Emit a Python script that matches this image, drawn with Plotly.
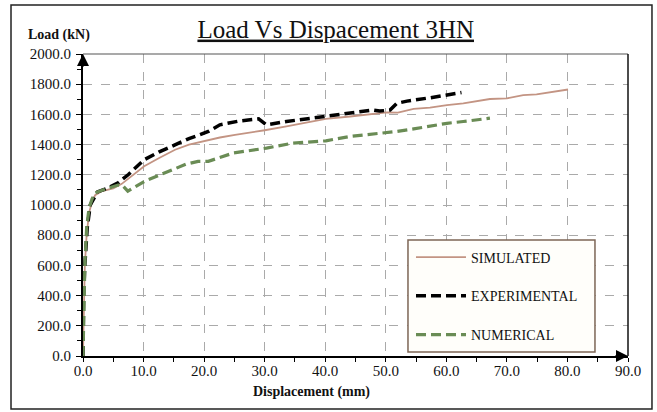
import plotly.graph_objects as go

# ---- data ----
sim_x = [0, 0.1, 0.3, 0.6, 1.0, 1.5, 2.0, 3.0, 5.0, 6.4, 8.0, 10.1, 12.5, 15.2, 17.5, 20.1,
         22.6, 25.1, 27.5, 30.0, 33.6, 37.5, 40.1, 44.1, 47.9, 50.2, 52.0, 54.6, 57.3, 60.1,
         62.8, 65.0, 67.2, 70.0, 72.7, 74.9, 77.7, 80.1]
sim_y = [0, 300, 600, 800, 950, 1020, 1065, 1090, 1110, 1140, 1190, 1257, 1310, 1366, 1400, 1425,
         1447, 1464, 1478, 1495, 1520, 1548, 1570, 1586, 1601, 1614, 1612, 1636, 1645, 1662,
         1673, 1690, 1702, 1706, 1728, 1732, 1750, 1765]

exp_x = [0, 0.1, 0.3, 0.7, 1.2, 2.4, 4.0, 5.8, 7.5, 10.1, 12.5, 15.2, 17.5, 19.3, 20.7, 22.6,
         25.9, 29.0, 30.3, 33.6, 37.5, 40.1, 44.1, 47.9, 49.0, 50.7, 51.8, 53.5, 57.3, 60.1, 62.5]
exp_y = [0, 400, 600, 850, 1000, 1087, 1110, 1147, 1202, 1300, 1350, 1400, 1440, 1465, 1487, 1531,
         1557, 1570, 1531, 1553, 1575, 1586, 1607, 1629, 1622, 1629, 1673, 1688, 1710, 1728, 1745]

num_x = [0, 0.1, 0.3, 0.6, 1.0, 1.5, 2.0, 4.0, 5.8, 6.5, 7.4, 10.2, 14.1, 17.0, 19.0, 20.7,
         24.8, 30.3, 34.7, 40.1, 44.1, 47.9, 51.8, 54.6, 60.1, 62.8, 67.2]
num_y = [0, 300, 600, 850, 980, 1040, 1081, 1110, 1132, 1130, 1092, 1158, 1224, 1270, 1289, 1289,
         1344, 1377, 1410, 1425, 1454, 1469, 1487, 1504, 1541, 1553, 1575]

x_ticks = [0, 10, 20, 30, 40, 50, 60, 70, 80, 90]
x_tick_labels = ["0.0", "10.0", "20.0", "30.0", "40.0", "50.0", "60.0", "70.0", "80.0", "90.0"]
y_ticks = [0, 200, 400, 600, 800, 1000, 1200, 1400, 1600, 1800, 2000]
y_tick_labels = ["0.0", "200.0", "400.0", "600.0", "800.0", "1000.0", "1200.0", "1400.0",
                 "1600.0", "1800.0", "2000.0"]

SERIF = "Liberation Serif, Times New Roman, serif"

fig = go.Figure()
fig.add_trace(go.Scatter(x=sim_x, y=sim_y, mode="lines", name="SIMULATED",
                         legendgroup="a", legendrank=1,
                         line=dict(color="#c39483", width=1.8)))
fig.add_trace(go.Scatter(x=exp_x, y=exp_y, mode="lines", name="EXPERIMENTAL",
                         legendgroup="b", legendrank=2,
                         line=dict(color="#000000", width=3.5, dash="10px,5px")))
fig.add_trace(go.Scatter(x=num_x, y=num_y, mode="lines", name="NUMERICAL",
                         legendgroup="c", legendrank=3,
                         line=dict(color="#6a8c55", width=3.2, dash="10px,5px")))

fig.update_layout(
    width=657, height=412,
    margin=dict(l=83, r=29, t=54, b=56),
    paper_bgcolor="white", plot_bgcolor="white",
    font=dict(family=SERIF, size=15, color="#111111"),
    title=dict(text="<u>Load Vs Dispacement 3HN</u>", x=0.511, xanchor="center",
               y=0.93, yanchor="middle", xref="container", yref="container",
               font=dict(family=SERIF, size=25, color="#111111")),
    showlegend=True,
    legend=dict(x=0.6018, y=0.379, xanchor="left", yanchor="top",
                bgcolor="rgba(0,0,0,0)", borderwidth=0,
                font=dict(family=SERIF, size=14, color="#111111"),
                tracegroupgap=17.5, itemwidth=50),
    xaxis=dict(range=[0, 90], tickvals=x_ticks, ticktext=x_tick_labels,
               showgrid=True, gridcolor="#aaaaaa", griddash="dash", gridwidth=1,
               showline=True, linecolor="black", linewidth=2,
               ticks="outside", ticklen=4, tickcolor="black", tickwidth=1,
               ticklabelstandoff=-4,
               minor=dict(dtick=5, tick0=0, ticks="outside", ticklen=4, tickcolor="black",
                          showgrid=False),
               zeroline=False, fixedrange=True, automargin=False),
    yaxis=dict(range=[0, 2000], tickvals=y_ticks, ticktext=y_tick_labels,
               showgrid=True, gridcolor="#aaaaaa", griddash="dash", gridwidth=1,
               showline=True, linecolor="black", linewidth=2,
               ticks="outside", ticklen=5, tickcolor="black", tickwidth=1,
               ticklabelstandoff=2,
               minor=dict(dtick=100, tick0=0, ticks="outside", ticklen=4, tickcolor="black",
                          showgrid=False),
               zeroline=False, fixedrange=True, automargin=False),
    shapes=[
        # plot-area frame (top & right)
        dict(type="line", xref="paper", yref="paper", x0=0, x1=1, y0=1, y1=1,
             line=dict(color="#555555", width=1.2)),
        dict(type="line", xref="paper", yref="paper", x0=1, x1=1, y0=0, y1=1,
             line=dict(color="#111111", width=1.5)),
        # outer chart border
        dict(type="rect", xref="paper", yref="paper", x0=-0.1321, x1=1.0440,
             y0=-0.1755, y1=1.1623, line=dict(color="#222222", width=1.5)),
        # legend box
        dict(type="rect", xref="paper", yref="paper", x0=0.5963, x1=0.9394,
             y0=0.0132, y1=0.3841, layer="above", fillcolor="#fffefa",
             line=dict(color="#7d6656", width=1.5)),
    ],
    annotations=[
        dict(text="<b>Load (kN)</b>", xref="paper", yref="paper", x=-0.044, y=1.063,
             xanchor="center", yanchor="middle", showarrow=False,
             font=dict(family=SERIF, size=14, color="#111111")),
        dict(text="<b>Displacement (mm)</b>", xref="paper", yref="paper", x=0.420, y=-0.119,
             xanchor="center", yanchor="middle", showarrow=False,
             font=dict(family=SERIF, size=14, color="#111111")),
        # axis arrows
        dict(x=0, y=2000, xref="x", yref="y", ax=0, ay=14, text="", showarrow=True,
             arrowhead=2, arrowsize=1.2, arrowwidth=2, arrowcolor="black"),
        dict(x=90, y=0, xref="x", yref="y", ax=-14, ay=0, text="", showarrow=True,
             arrowhead=2, arrowsize=1.2, arrowwidth=2, arrowcolor="black"),
    ],
)

fig.write_html("out.html", config={"displayModeBar": False},
               post_script="document.body.style.margin='0';")
